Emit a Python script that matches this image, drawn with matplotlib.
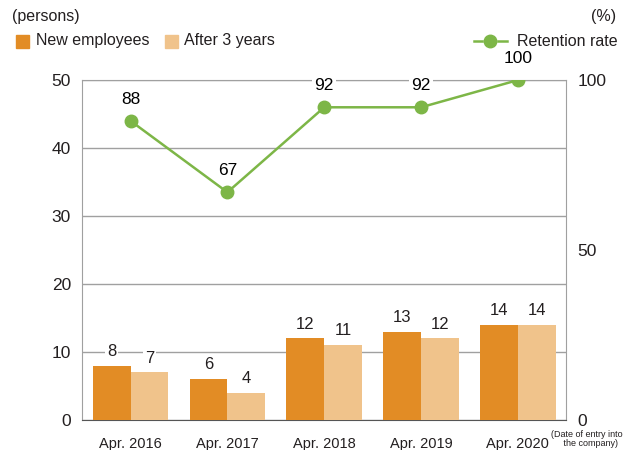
import matplotlib
matplotlib.use("Agg")
from matplotlib import pyplot as plt
from matplotlib.lines import Line2D
from matplotlib.patches import Rectangle
import numpy as np

plt.rcParams['font.family'] = ['Liberation Sans', 'DejaVu Sans']

categories = ["Apr. 2016", "Apr. 2017", "Apr. 2018", "Apr. 2019", "Apr. 2020"]
new_employees = [8, 6, 12, 13, 14]
after_3_years = [7, 4, 11, 12, 14]
retention = [88, 67, 92, 92, 100]

c_dark = "#e28c25"
c_light = "#f0c38b"
c_green = "#7db647"
c_grid = "#a0a0a0"
c_text = "#231f20"

fig = plt.figure(figsize=(6.32, 4.5), dpi=100)
ax = fig.add_axes([0.130, 0.0667, 0.766, 0.7553])
ax2 = ax.twinx()

x = np.arange(len(categories))
w = 0.39
ax.bar(x - w / 2, new_employees, w, color=c_dark, zorder=3)
ax.bar(x + w / 2, after_3_years, w, color=c_light, zorder=3)

for xi, v in zip(x, new_employees):
    ax.text(xi - w / 2, v + 1.0, str(v), ha="center", va="bottom", fontsize=12,
            color=c_text, zorder=5, bbox=dict(fc="white", ec="none", pad=1.5))
for xi, v in zip(x, after_3_years):
    ax.text(xi + w / 2, v + 1.0, str(v), ha="center", va="bottom", fontsize=12,
            color=c_text, zorder=5, bbox=dict(fc="white", ec="none", pad=1.5))

ax.set_xlim(-0.5, len(categories) - 0.5)
ax.set_ylim(0, 50)
ax.set_yticks([0, 10, 20, 30, 40, 50])
ax.set_xticks(x)
ax.set_xticklabels(categories)
ax.tick_params(axis="both", length=0, labelsize=12.5, colors=c_text)
ax.tick_params(axis="x", labelsize=10.5, pad=12)
ax.tick_params(axis="y", pad=8)
ax.yaxis.grid(True, color=c_grid, lw=1, zorder=0)
ax.set_axisbelow(True)
for s in ["left", "top", "right"]:
    ax.spines[s].set_color(c_grid)
ax.spines["bottom"].set_color("#555555")

ax2.plot(x, retention, color=c_green, lw=1.8, marker="o", ms=9, zorder=4)
for xi, v in zip(x, retention):
    ax2.text(xi, v + 4.2, str(v), ha="center", va="bottom", fontsize=12.5,
             color="black", zorder=5,
             bbox=dict(fc="white", ec="none", pad=1.5))
ax2.set_ylim(0, 100)
ax2.set_yticks([0, 50, 100])
ax2.tick_params(axis="y", length=0, labelsize=12.5, colors=c_text, pad=8)
for s in ["left", "top", "right", "bottom"]:
    ax2.spines[s].set_visible(False)
ax2.set_zorder(ax.get_zorder() + 1)

# units and legend
fig.text(12 / 632, 1 - 17 / 450, "(persons)", fontsize=11.5, color=c_text, va="center")
fig.text(616 / 632, 1 - 17 / 450, "(%)", fontsize=11.5, color=c_text, va="center", ha="right")
fig.text(551 / 632, 1 - 439 / 450, "(Date of entry into\n     the company)", fontsize=6.5,
         family=["Liberation Sans Narrow", "Liberation Sans"],
         color=c_text, va="center", ha="left", linespacing=0.95)

ly = 1 - 41 / 450
fig.patches.append(Rectangle((16 / 632, ly - 6.5 / 450), 13 / 632, 13 / 450,
                             transform=fig.transFigure, color=c_dark))
fig.text(36 / 632, ly, "New employees", fontsize=11.5, color=c_text, va="center")
fig.patches.append(Rectangle((165 / 632, ly - 6.5 / 450), 13 / 632, 13 / 450,
                             transform=fig.transFigure, color=c_light))
fig.text(184 / 632, ly, "After 3 years", fontsize=11.5, color=c_text, va="center")
for x0, x1 in [(474, 482), (498, 507)]:
    fig.lines.append(Line2D([x0 / 632, x1 / 632], [ly, ly], transform=fig.transFigure,
                            color=c_green, lw=1.8))
fig.lines.append(Line2D([490 / 632], [ly], transform=fig.transFigure, color=c_green,
                        marker="o", ms=9))
fig.text(517 / 632, ly, "Retention rate", fontsize=11.5, color=c_text, va="center")

fig.savefig("out.png", dpi=100)
